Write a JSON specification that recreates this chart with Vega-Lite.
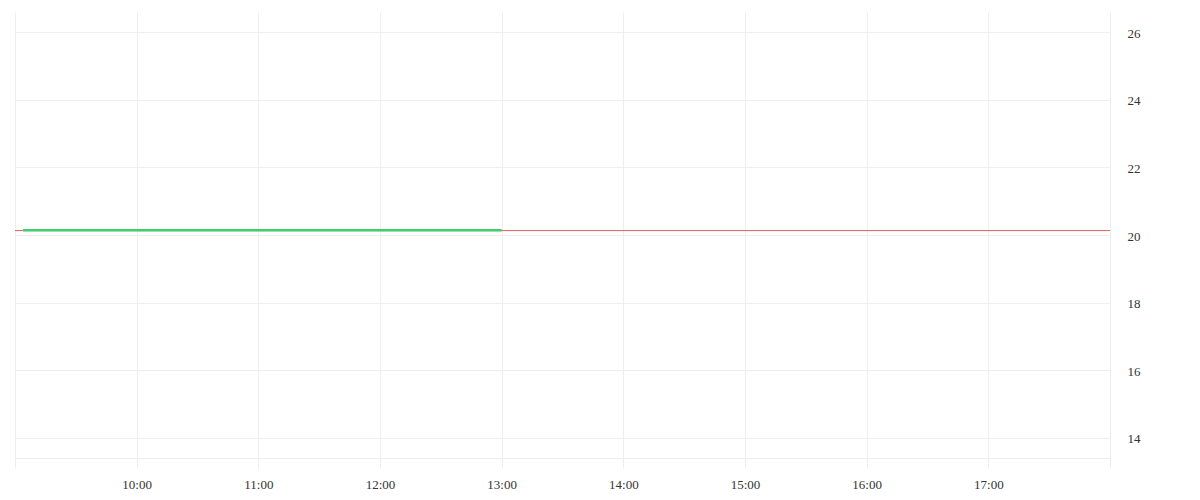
{
  "$schema": "https://vega.github.io/schema/vega-lite/v6.json",
  "autosize": "none",
  "padding": {"left": 15, "top": 12, "right": 90, "bottom": 42},
  "width": 1095,
  "height": 446,
  "config": {
    "view": {"stroke": null},
    "axis": {
      "labelFont": "Liberation Serif",
      "labelFontSize": 13,
      "labelColor": "#333333",
      "gridColor": "#eeeeee",
      "gridWidth": 1,
      "domainColor": "#eeeeee",
      "tickColor": "#eeeeee"
    }
  },
  "datasets": {
    "price": [
      {"time": "2024-01-02T09:04:00", "price": 20.14},
      {"time": "2024-01-02T10:00:00", "price": 20.14},
      {"time": "2024-01-02T11:00:00", "price": 20.14},
      {"time": "2024-01-02T12:00:00", "price": 20.14},
      {"time": "2024-01-02T13:00:00", "price": 20.14}
    ],
    "ref": [
      {"time": "2024-01-02T09:00:00", "price": 20.13},
      {"time": "2024-01-02T18:00:00", "price": 20.13}
    ]
  },
  "encoding": {
    "x": {
      "field": "time",
      "type": "temporal",
      "scale": {"domain": [{"year": 2024, "month": 1, "date": 2, "hours": 9}, {"year": 2024, "month": 1, "date": 2, "hours": 18}]},
      "axis": {
        "title": null,
        "format": "%H:%M",
        "values": [
          {"year": 2024, "month": 1, "date": 2, "hours": 9},
          {"year": 2024, "month": 1, "date": 2, "hours": 10},
          {"year": 2024, "month": 1, "date": 2, "hours": 11},
          {"year": 2024, "month": 1, "date": 2, "hours": 12},
          {"year": 2024, "month": 1, "date": 2, "hours": 13},
          {"year": 2024, "month": 1, "date": 2, "hours": 14},
          {"year": 2024, "month": 1, "date": 2, "hours": 15},
          {"year": 2024, "month": 1, "date": 2, "hours": 16},
          {"year": 2024, "month": 1, "date": 2, "hours": 17},
          {"year": 2024, "month": 1, "date": 2, "hours": 18}
        ],
        "labelExpr": "hours(datum.value) == 9 || hours(datum.value) == 18 ? '' : datum.label",
        "tickSize": 10,
        "labelPadding": 10,
        "labelFlush": false,
        "labelOverlap": false
      }
    },
    "y": {
      "field": "price",
      "type": "quantitative",
      "scale": {"domain": [13.4, 26.6], "nice": false, "zero": false},
      "axis": {
        "title": null,
        "orient": "right",
        "values": [14, 16, 18, 20, 22, 24, 26],
        "domain": false,
        "ticks": false,
        "labelPadding": 17,
        "labelAlign": "left",
        "labelOffset": 1,
        "labelFlush": false
      }
    }
  },
  "layer": [
    {
      "data": {"name": "ref"},
      "mark": {"type": "line", "color": "#e35d5d", "strokeWidth": 1}
    },
    {
      "data": {"name": "price"},
      "mark": {"type": "line", "color": "#3ecf6a", "strokeWidth": 2.5}
    }
  ]
}
